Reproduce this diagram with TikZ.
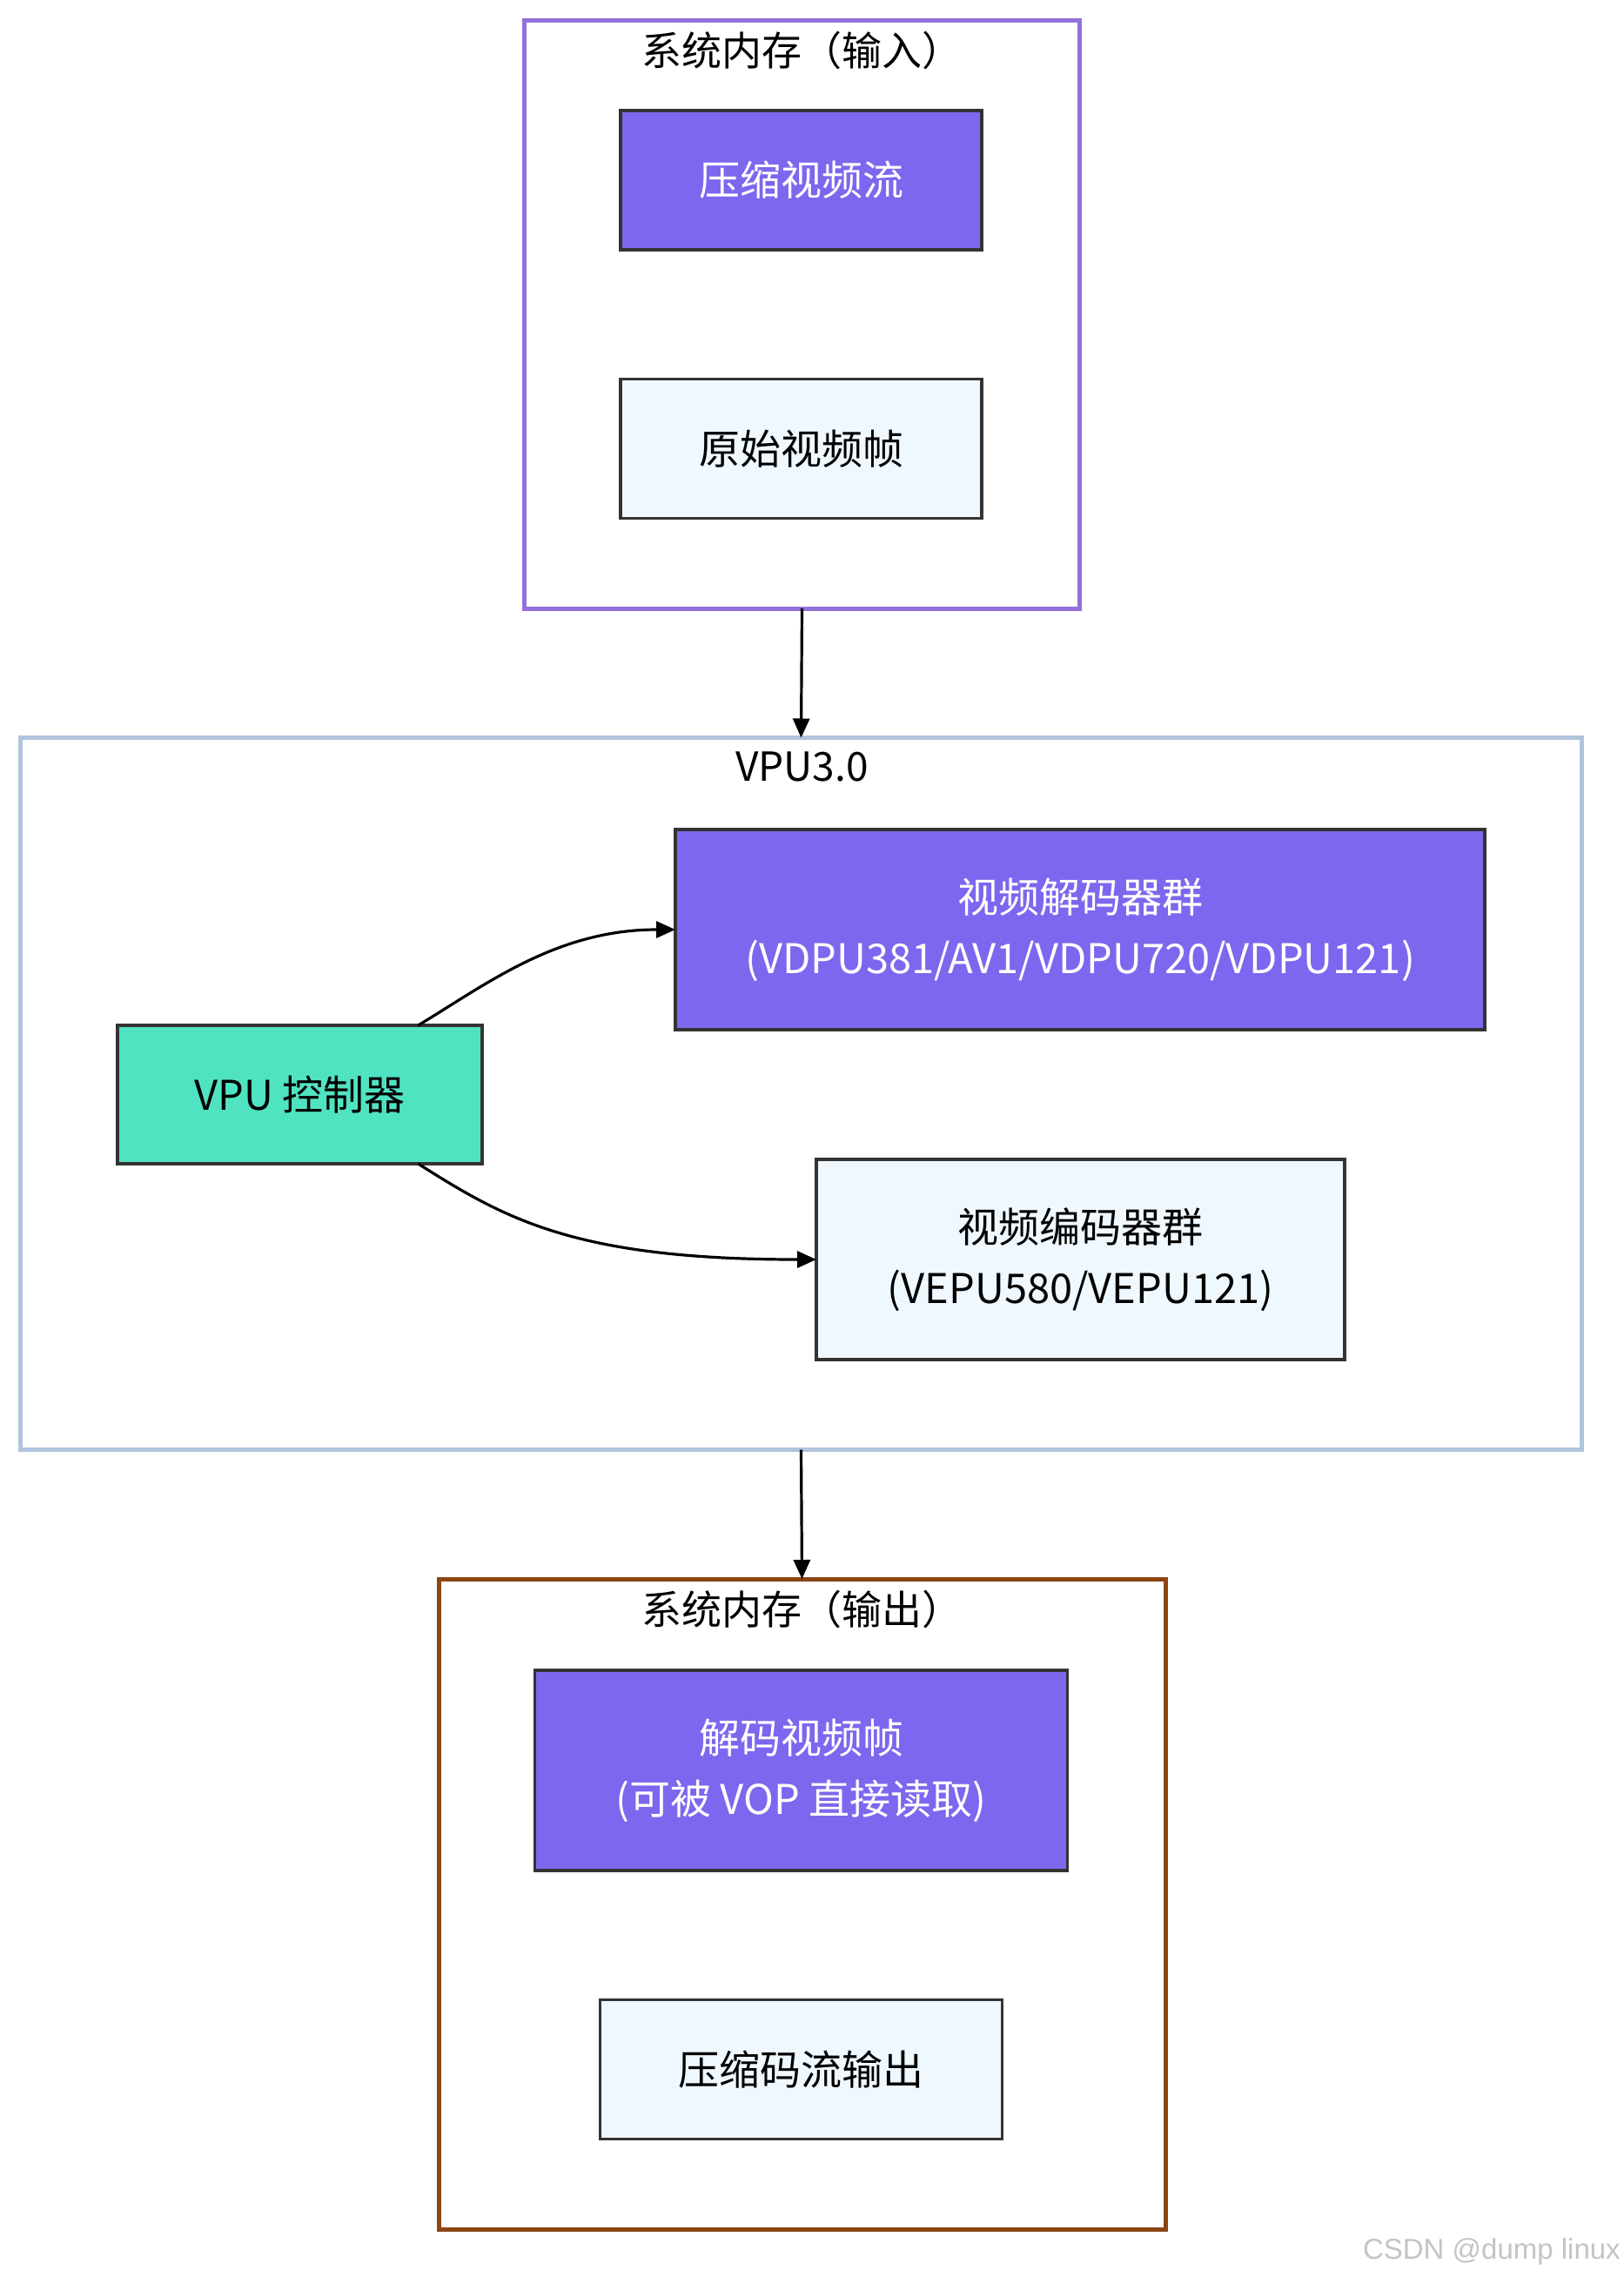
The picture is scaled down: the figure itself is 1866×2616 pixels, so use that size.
\documentclass[tikz,border=0pt]{standalone}
\usepackage{fontspec}
\setmainfont{Noto Sans CJK SC}
\newfontfamily\wmfont{Liberation Sans}
\usetikzlibrary{arrows.meta}
\definecolor{purp}{HTML}{7B68EE}
\definecolor{alice}{HTML}{F0F8FF}
\definecolor{aqua}{HTML}{50E3C2}
\definecolor{edgec}{HTML}{333333}
\definecolor{inborder}{HTML}{9370DB}
\definecolor{vpuborder}{HTML}{B0C4DE}
\definecolor{outborder}{HTML}{8B4513}
\definecolor{wmgray}{HTML}{C4C4C4}
\tikzset{
  box/.style={draw=edgec, line width=3.5pt, inner sep=0pt, outer sep=0pt, align=center,
    font=\fontsize{47}{70}\selectfont},
  darkbox/.style={box, fill=purp, text=white},
  lightbox/.style={box, fill=alice, text=black},
  ctrlbox/.style={box, fill=aqua, text=black},
  cluster/.style={line width=5pt, inner sep=0pt, outer sep=0pt, fill=white},
  ctitle/.style={font=\fontsize{46}{56}\selectfont, text=black, inner sep=0pt},
  arr/.style={draw=black, line width=3.2pt, -{Triangle[length=22pt,width=19pt]}}
}
\begin{document}
\begin{tikzpicture}[x=1pt,y=-1pt]
\useasboundingbox (0,0) rectangle (1866,2616);
\fill[white] (0,0) rectangle (1866,2616);

% clusters
\node[cluster, draw=inborder, minimum width=638, minimum height=676] (inmem) at (921.5,361) {};
\node[ctitle] (intitle) at (921.5,58) {系统内存（输入）};
\node[cluster, draw=vpuborder, minimum width=1794, minimum height=818] (vpu) at (920.5,1256.5) {};
\node[ctitle] (vputitle) at (921.5,881) {VPU3.0};
\node[cluster, draw=outborder, minimum width=835, minimum height=747] (outmem) at (921.5,2187.5) {};
\node[ctitle] (outtitle) at (921.5,1849) {系统内存（输出）};

% input nodes
\node[darkbox, minimum width=415, minimum height=160] (stream) at (920.5,207) {压缩视频流};
\node[lightbox, minimum width=415, minimum height=160] (raw) at (920.5,515.5) {原始视频帧};

% vpu nodes
\node[darkbox, minimum width=930, minimum height=230] (dec) at (1241,1068)
  {视频解码器群\\(VDPU381/AV1/VDPU720/VDPU121)};
\node[ctrlbox, minimum width=419, minimum height=159] (ctrl) at (344.5,1257.5) {VPU 控制器};
\node[lightbox, minimum width=607, minimum height=230] (enc) at (1241.5,1447)
  {视频编码器群\\(VEPU580/VEPU121)};

% output nodes
\node[darkbox, minimum width=612, minimum height=230] (decframe) at (920.5,2034)
  {解码视频帧\\(可被 VOP 直接读取)};
\node[lightbox, minimum width=462, minimum height=160] (cout) at (920.5,2377.5) {压缩码流输出};

% connectors
\draw[arr] (inmem.south) -- (vpu.north);
\draw[arr] (vpu.south) -- (outmem.north);
\draw[arr] ([xshift=136pt]ctrl.north) .. controls (560,1130) and (640,1068) .. (dec.west);
\draw[arr] ([xshift=136pt]ctrl.south) .. controls (580,1400) and (660,1447) .. (enc.west);

% watermark
\node[font=\wmfont\fontsize{33}{40}\selectfont, text=wmgray, anchor=base east, inner sep=0pt] (wm) at (1862,2595) {CSDN @dump linux};
\end{tikzpicture}
\end{document}
